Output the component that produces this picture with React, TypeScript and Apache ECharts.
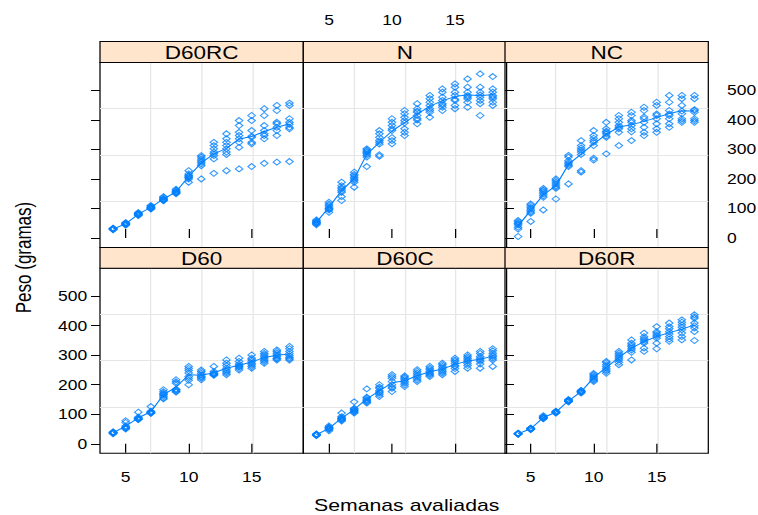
import React, { useEffect, useRef } from "react";
import * as echarts from "echarts";

// ---------- data ----------
const WEEKS = [4, 5, 6, 7, 8, 9, 10, 11, 12, 13, 14, 15, 16, 17, 18];
const X_TICKS = [5, 10, 15];
const Y_TICKS = [0, 100, 200, 300, 400, 500];

// each row = one week (4..18), values = animals' weights (g)
const D60: number[][] = [
  [34, 36, 37, 38, 39, 40, 36, 38],
  [78, 72, 60, 57, 55, 53, 52, 50],
  [107, 90, 87, 85, 84, 83, 82, 86],
  [126, 110, 108, 106, 105, 104, 103, 107],
  [183, 176, 171, 165, 160, 155, 152, 168],
  [217, 210, 205, 183, 180, 177, 175, 185],
  [262, 255, 248, 240, 228, 222, 215, 200],
  [250, 245, 239, 233, 228, 222, 217, 225],
  [262, 245, 240, 237, 234, 232, 236, 238],
  [284, 273, 265, 256, 250, 245, 240, 234],
  [290, 279, 270, 265, 260, 255, 250, 262],
  [301, 290, 285, 279, 273, 268, 262, 256],
  [313, 306, 301, 295, 290, 284, 279, 273],
  [318, 313, 307, 301, 296, 290, 284, 288],
  [330, 322, 313, 305, 298, 292, 288, 284],
];

const D60C: number[][] = [
  [28, 30, 31, 32, 29, 33, 30, 31],
  [60, 56, 55, 53, 52, 50, 48, 44],
  [104, 92, 88, 86, 84, 82, 80, 77],
  [142, 120, 118, 115, 112, 110, 107, 104],
  [186, 158, 155, 150, 147, 144, 141, 138],
  [200, 192, 188, 180, 175, 172, 166, 160],
  [234, 228, 222, 211, 200, 192, 188, 177],
  [230, 226, 222, 217, 212, 206, 200, 194],
  [251, 245, 239, 233, 228, 222, 216, 211],
  [262, 256, 251, 245, 240, 236, 232, 228],
  [273, 268, 262, 256, 250, 245, 240, 234],
  [290, 284, 279, 272, 265, 262, 255, 245],
  [301, 295, 290, 284, 279, 272, 265, 256],
  [313, 306, 296, 290, 284, 279, 270, 256],
  [322, 315, 307, 300, 296, 290, 284, 262],
];

const D60R: number[][] = [
  [32, 33, 34, 35, 33, 36, 34, 34],
  [48, 50, 51, 52, 53, 50, 49, 52],
  [95, 92, 90, 88, 86, 85, 87, 89],
  [104, 106, 107, 108, 109, 110, 105, 107],
  [142, 144, 146, 148, 150, 145, 147, 143],
  [172, 175, 177, 179, 181, 176, 178, 174],
  [238, 234, 230, 226, 222, 218, 214, 211],
  [279, 275, 268, 262, 256, 250, 245, 239],
  [313, 307, 301, 295, 290, 284, 276, 268],
  [352, 341, 335, 330, 324, 318, 310, 284],
  [375, 363, 357, 352, 346, 341, 324, 313],
  [397, 380, 375, 369, 364, 358, 341, 322],
  [409, 397, 390, 380, 372, 363, 355, 347],
  [420, 412, 403, 395, 386, 375, 363, 352],
  [437, 430, 425, 409, 400, 392, 380, 350],
];

const D60RC: number[][] = [
  [28, 30, 31, 32, 29, 33, 30, 31],
  [44, 47, 49, 50, 46, 52, 48, 45],
  [76, 80, 82, 84, 78, 86, 81, 79],
  [98, 102, 105, 108, 100, 110, 104, 101],
  [126, 130, 134, 138, 128, 140, 132, 129],
  [150, 155, 158, 162, 152, 165, 157, 153],
  [228, 217, 211, 206, 210, 205, 200, 189],
  [279, 274, 268, 262, 257, 251, 245, 200],
  [324, 313, 302, 291, 285, 279, 268, 219],
  [353, 336, 324, 313, 302, 291, 283, 228],
  [398, 381, 358, 347, 336, 324, 307, 234],
  [415, 398, 364, 345, 341, 324, 319, 242],
  [438, 415, 381, 364, 353, 347, 336, 253],
  [449, 432, 392, 387, 375, 364, 347, 257],
  [457, 449, 404, 392, 385, 375, 370, 259],
];

const N: number[][] = [
  [45, 50, 53, 58, 61, 48, 55, 52],
  [87, 95, 100, 105, 110, 115, 121, 98],
  [189, 177, 170, 166, 160, 155, 140, 127],
  [223, 215, 211, 205, 200, 195, 189, 172],
  [302, 298, 294, 290, 285, 280, 274, 242],
  [364, 353, 341, 330, 324, 318, 282, 277],
  [404, 392, 381, 370, 364, 340, 330, 319],
  [432, 421, 409, 398, 390, 370, 358, 347],
  [455, 438, 430, 426, 415, 405, 400, 387],
  [483, 472, 460, 449, 438, 432, 426, 409],
  [505, 494, 477, 466, 455, 450, 443, 432],
  [522, 511, 494, 483, 470, 466, 449, 438],
  [539, 511, 494, 483, 478, 472, 460, 443],
  [556, 511, 494, 485, 477, 466, 455, 415],
  [547, 505, 494, 483, 478, 472, 460, 449],
];

const NC: number[][] = [
  [59, 55, 51, 48, 44, 36, 30, 5],
  [115, 110, 104, 98, 93, 88, 84, 56],
  [168, 163, 160, 155, 149, 143, 138, 95],
  [200, 195, 189, 183, 177, 172, 168, 132],
  [280, 274, 262, 256, 251, 246, 242, 183],
  [330, 313, 305, 298, 291, 283, 228, 223],
  [364, 347, 338, 330, 324, 313, 270, 264],
  [392, 370, 362, 358, 353, 345, 341, 285],
  [415, 404, 392, 381, 375, 370, 358, 313],
  [426, 415, 398, 392, 381, 370, 360, 330],
  [443, 432, 410, 404, 392, 375, 358, 347],
  [460, 449, 420, 415, 404, 387, 370, 358],
  [483, 460, 432, 420, 415, 404, 387, 375],
  [483, 472, 449, 430, 421, 404, 398, 392],
  [483, 472, 435, 432, 426, 404, 398, 392],
];

const X_LABEL = "Semanas avaliadas";
const Y_LABEL = "Peso (gramas)";

// ---------- layout ----------
const S = 1.25; // horizontal stretch of the reference
const CW = 758 / S;
const CH = 515;
const X_MIN = 2.96;
const X_MAX = 19.1;
const Y_MIN = -32;
const Y_MAX = 595;
const COL_LEFT = [100, 303.3, 505].map((v) => v / S);
const PANEL_W = 203.3 / S;
const STRIP_H = 20.8;
const PANEL_TOP = [62.4, 268.2];
const PANEL_H = 185;
const FONT = "'Liberation Sans', Arial, Helvetica, sans-serif";
const BLUE = "#0080ff";
const TICK_FONT = 14;

const PANELS = [
  { name: "D60", data: D60, col: 0, row: 1 },
  { name: "D60C", data: D60C, col: 1, row: 1 },
  { name: "D60R", data: D60R, col: 2, row: 1 },
  { name: "D60RC", data: D60RC, col: 0, row: 0 },
  { name: "N", data: N, col: 1, row: 0 },
  { name: "NC", data: NC, col: 2, row: 0 },
];

function buildOption() {
  const grid: any[] = [];
  const xAxis: any[] = [];
  const yAxis: any[] = [];
  const series: any[] = [];
  const graphic: any[] = [];

  PANELS.forEach((p, i) => {
    grid.push({
      left: COL_LEFT[p.col],
      top: PANEL_TOP[p.row],
      width: PANEL_W,
      height: PANEL_H,
      show: true,
      borderColor: "#000",
      borderWidth: 1,
      backgroundColor: "transparent",
      containLabel: false,
      outerBoundsMode: "none",
    });

    const labelX = (p.row === 1 && p.col !== 1) || (p.row === 0 && p.col === 1);
    xAxis.push({
      type: "value",
      gridIndex: i,
      min: X_MIN,
      max: X_MAX,
      position: p.row === 1 ? "bottom" : "top",
      offset: p.row === 0 ? STRIP_H : 0,
      axisLine: { show: false },
      axisTick: {
        show: true,
        length: 9,
        customValues: X_TICKS,
        lineStyle: { color: "#000", width: 1 },
      },
      axisLabel: {
        show: labelX,
        customValues: X_TICKS,
        margin: p.row === 1 ? 17 : 14,
        fontSize: TICK_FONT,
        color: "#000",
        fontFamily: FONT,
      },
      splitLine: { show: false },
    });

    const hasY = p.col !== 1;
    const labelY = (p.col === 0 && p.row === 1) || (p.col === 2 && p.row === 0);
    yAxis.push({
      type: "value",
      gridIndex: i,
      min: Y_MIN,
      max: Y_MAX,
      position: p.col === 2 ? "right" : "left",
      show: hasY,
      axisLine: { show: false },
      axisTick: {
        show: hasY,
        length: 9 / S,
        customValues: Y_TICKS,
        lineStyle: { color: "#000", width: 1 },
      },
      axisLabel: {
        show: labelY,
        customValues: Y_TICKS,
        margin: p.col === 0 ? 10.2 : 15,
        fontSize: TICK_FONT,
        color: "#000",
        fontFamily: FONT,
      },
      splitLine: { show: false },
    });

    const points: number[][] = [];
    const means: number[][] = [];
    p.data.forEach((vals, wi) => {
      vals.forEach((v) => points.push([WEEKS[wi], v]));
      means.push([WEEKS[wi], vals.reduce((a, b) => a + b, 0) / vals.length]);
    });

    series.push({
      type: "scatter",
      xAxisIndex: i,
      yAxisIndex: i,
      data: points,
      symbol: "diamond",
      symbolSize: 6,
      itemStyle: { color: "rgba(0,0,0,0)", borderColor: BLUE, borderWidth: 1 },
      silent: true,
      z: 3,
    });
    series.push({
      type: "line",
      xAxisIndex: i,
      yAxisIndex: i,
      data: means,
      symbol: "none",
      showSymbol: false,
      lineStyle: { color: BLUE, width: 1 },
      silent: true,
      z: 4,
    });

    const stripTop = PANEL_TOP[p.row] - STRIP_H;
    graphic.push({
      type: "rect",
      shape: { x: COL_LEFT[p.col], y: stripTop, width: PANEL_W, height: STRIP_H },
      style: { fill: "#ffe5cc", stroke: "#000", lineWidth: 1 },
      z: 10,
    });
    graphic.push({
      type: "text",
      x: COL_LEFT[p.col] + PANEL_W / 2,
      y: stripTop + STRIP_H / 2 + 1,
      style: {
        text: p.name,
        fontSize: 18,
        fontFamily: FONT,
        fill: "#000",
        align: "center",
        verticalAlign: "middle",
      },
      z: 11,
    });
  });

  // grid lines: 3 equally spaced lines each way
  PANELS.forEach((p, i) => {
    xAxis.push({
      type: "value",
      gridIndex: i,
      min: 0,
      max: 4,
      interval: 1,
      position: p.row === 1 ? "top" : "bottom",
      axisLine: { show: false },
      axisTick: { show: false },
      axisLabel: { show: false },
      splitLine: {
        show: true,
        showMinLine: false,
        showMaxLine: false,
        lineStyle: { color: "#e6e6e6", width: 1 },
      },
    });
    yAxis.push({
      type: "value",
      gridIndex: i,
      min: 0,
      max: 4,
      interval: 1,
      position: p.col === 2 ? "left" : "right",
      axisLine: { show: false },
      axisTick: { show: false },
      axisLabel: { show: false },
      splitLine: {
        show: true,
        showMinLine: false,
        showMaxLine: false,
        lineStyle: { color: "#e6e6e6", width: 1.2 },
      },
    });
  });

  graphic.push({
    type: "text",
    x: 406.7 / S,
    y: 505.5,
    style: {
      text: X_LABEL,
      fontSize: 17,
      fontFamily: FONT,
      fill: "#000",
      align: "center",
      verticalAlign: "middle",
    },
  });
  graphic.push({
    type: "text",
    x: 24 / S,
    y: 257.5,
    rotation: Math.PI / 2,
    style: {
      text: Y_LABEL,
      fontSize: 17,
      fontFamily: FONT,
      fill: "#000",
      align: "center",
      verticalAlign: "middle",
    },
  });

  return {
    animation: false,
    backgroundColor: "#ffffff",
    grid,
    xAxis,
    yAxis,
    series,
    graphic,
  };
}

export default function App() {
  const ref = useRef<HTMLDivElement>(null);
  useEffect(() => {
    if (!ref.current) return;
    const chart = echarts.init(ref.current, undefined, { renderer: "svg" });
    chart.setOption(buildOption() as any);
    return () => chart.dispose();
  }, []);
  return (
    <div
      style={{
        position: "absolute",
        left: 0,
        top: 0,
        width: 758,
        height: 515,
        overflow: "hidden",
        background: "#fff",
      }}
    >
      <div
        ref={ref}
        style={{
          width: CW,
          height: CH,
          transform: `scaleX(${S})`,
          transformOrigin: "0 0",
        }}
      />
    </div>
  );
}
